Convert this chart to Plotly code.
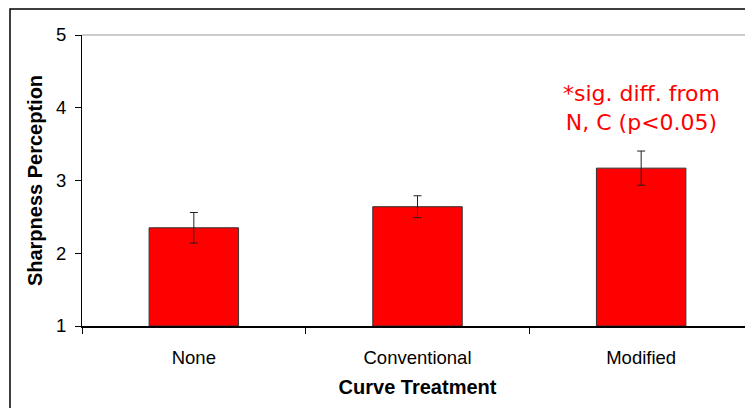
import plotly.graph_objects as go

categories = ["None", "Conventional", "Modified"]
means = [2.35, 2.64, 3.17]
errors = [0.21, 0.15, 0.235]
y_ticks = [1, 2, 3, 4, 5]
note_text = "*sig. diff. from<br>N, C (p<0.05)"
x_title = "Curve Treatment"
y_title = "Sharpness Perception"

fig = go.Figure()
fig.add_trace(go.Bar(
    x=categories, y=[m - 1 for m in means], base=1,
    width=0.4,
    marker=dict(color="#FF0000", line=dict(color="#333333", width=1)),
    error_y=dict(type="data", array=errors, color="#222222", thickness=1, width=4),
    showlegend=False,
))

fig.add_annotation(x="Modified", y=4.0, text=note_text, showarrow=False,
                   font=dict(family="DejaVu Sans", size=22, color="#FF0000"),
                   align="center", xanchor="center", yanchor="middle")

# plot top border (gray) and outer frame
fig.add_shape(type="line", xref="paper", yref="paper", x0=0, x1=1.01, y0=1, y1=1,
              line=dict(color="#999999", width=1))
fig.add_shape(type="rect", xref="paper", yref="paper", x0=-0.1073, x1=1.05, y0=-0.5, y1=1.0893,
              line=dict(color="#000000", width=1.5))

fig.update_layout(
    width=745, height=400,
    margin=dict(l=74, r=0, t=27, b=82, autoexpand=False),
    plot_bgcolor="white", paper_bgcolor="white",
    font=dict(family="Liberation Sans, Arial", color="#000000"),
    xaxis=dict(
        range=[-0.5, 2.5], showline=True, linecolor="#000000", linewidth=1.5,
        ticks="outside", ticklen=6, tickcolor="#000000", tickson="boundaries",
        tickfont=dict(size=18.5), ticklabelstandoff=14,
        title=dict(text=x_title, font=dict(size=20, weight="bold"), standoff=13),
        showgrid=False, zeroline=False,
    ),
    yaxis=dict(
        range=[1, 5], tickvals=y_ticks, showline=True, linecolor="#000000", linewidth=1.2,
        ticks="outside", ticklen=6, tickcolor="#000000",
        tickfont=dict(size=18.5), ticklabelstandoff=5,
        title=dict(text=y_title, font=dict(size=20, weight="bold"), standoff=7),
        showgrid=False, zeroline=False,
    ),
)

fig.write_html("out.html")
